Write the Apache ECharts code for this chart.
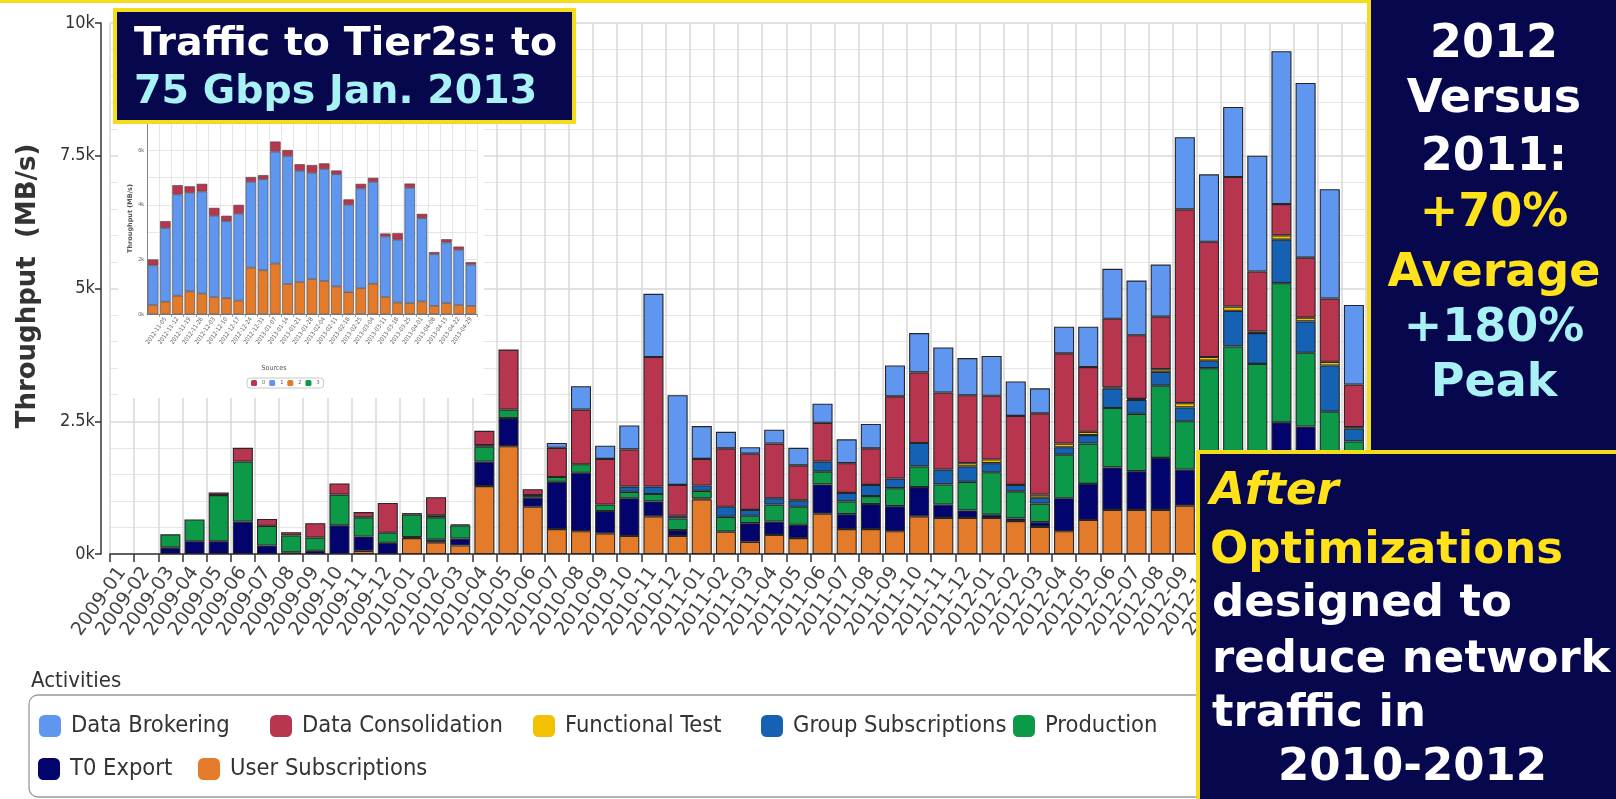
<!DOCTYPE html>
<html>
<head>
<meta charset="utf-8">
<script src="https://cdn.jsdelivr.net/npm/echarts@6/dist/echarts.min.js"></script>
<style>
  html, body { margin: 0; padding: 0; background: #fff; }
  #chart { width: 1616px; height: 799px; }
</style>
</head>
<body>
<div id="chart"></div>
<script>
// monthly throughput to Tier2s, MB/s
var months = ['2009-01','2009-02','2009-03','2009-04','2009-05','2009-06','2009-07','2009-08','2009-09','2009-10','2009-11','2009-12',
  '2010-01','2010-02','2010-03','2010-04','2010-05','2010-06','2010-07','2010-08','2010-09','2010-10','2010-11','2010-12',
  '2011-01','2011-02','2011-03','2011-04','2011-05','2011-06','2011-07','2011-08','2011-09','2011-10','2011-11','2011-12',
  '2012-01','2012-02','2012-03','2012-04','2012-05','2012-06','2012-07','2012-08','2012-09','2012-10','2012-11','2012-12',
  '2013-01','2013-02','2013-03','2013-04'];

var userSubs = [0,0, 0,0,0,0,0,0,0,0,60,0,
  300,220,160,1280,2030,890,470,430,390,340,710,340,
  1030,420,230,360,300,760,470,470,430,710,680,680,
  680,620,510,430,640,830,830,830,910,920,910,880,
  1080,1000,880,920];
var t0Export = [0,0, 120,240,240,610,160,30,60,540,270,210,
  20,50,130,460,530,170,890,1100,420,710,280,110,
  20,0,350,250,250,550,280,470,470,550,250,140,
  60,50,90,620,680,800,730,980,680,800,800,700,
  1400,1400,500,600];
var production = [0,0, 250,410,870,1130,370,320,250,580,360,190,
  420,420,250,280,160,50,90,160,120,120,140,220,
  140,280,140,320,340,240,240,150,340,390,380,540,
  800,510,350,820,760,1120,1080,1360,910,1780,2200,2000,
  2620,1390,1300,600];
var groupSubs = [0,0, 0,0,0,0,0,0,0,0,0,0,
  0,40,20,30,0,0,0,0,0,100,140,50,
  100,190,110,120,120,190,160,210,180,440,280,290,
  170,120,110,140,160,370,260,260,260,140,670,580,
  820,590,870,240];
var functionalTest = [0,0, 0,0,0,0,0,0,0,0,0,0,
  0,0,0,0,0,0,0,0,0,0,0,0,
  0,0,0,0,0,0,0,0,0,0,0,60,
  70,0,60,70,60,20,20,50,80,70,80,30,
  80,70,70,30];
var dataConsolidation = [0,0, 0,0,50,260,130,60,270,210,100,560,
  30,340,0,270,1130,110,550,1030,860,700,2440,580,
  500,1100,1060,1030,660,730,560,690,1550,1330,1450,1280,
  1200,1300,1530,1700,1220,1290,1200,990,3650,2170,2440,1130,
  590,1130,1190,800];
var dataBrokering = [0,0, 0,0,0,0,0,0,0,0,0,0,
  0,0,0,0,0,0,90,440,250,450,1190,1690,
  620,310,120,260,330,360,450,460,580,740,850,700,
  750,650,470,500,760,940,1030,980,1360,1270,1320,2180,
  2880,3290,2060,1500];

// inset: weekly, by source
var weeks = ['2012-10-29','2012-11-05','2012-11-12','2012-11-19','2012-11-26','2012-12-03','2012-12-10','2012-12-17','2012-12-24',
  '2012-12-31','2013-01-07','2013-01-14','2013-01-21','2013-01-28','2013-02-04','2013-02-11','2013-02-18','2013-02-25',
  '2013-03-04','2013-03-11','2013-03-18','2013-03-25','2013-04-01','2013-04-08','2013-04-15','2013-04-22','2013-04-29'];
var src0 = [220,250,340,240,280,290,200,330,180,150,370,220,240,290,210,140,200,170,150,110,240,160,160,80,120,120,90];
var src1 = [1450,2700,3710,3610,3740,2980,2820,3180,3140,3340,4100,4690,4080,3890,4100,4110,3200,3650,3730,2220,2300,4220,3050,1890,2220,2020,1510];
var src2 = [330,450,670,830,750,620,580,490,1700,1600,1850,1100,1170,1280,1210,1010,800,950,1110,620,420,400,460,300,400,330,300];
var src3 = [0,0,0,0,0,0,0,0,0,0,0,0,0,0,0,0,0,0,0,0,0,0,0,0,0,0,0];

var NAVY = '#07074d', YELLOW = '#f4dc1c', CYAN = '#a8f2f6', GOLD = '#ffe21a';
var COND = "'DejaVu Sans Condensed', 'DejaVu Sans', sans-serif";
var SANS = "'DejaVu Sans', sans-serif";

function nz(arr) { return arr.map(function (v) { return v === 0 ? '-' : v; }); }

function mainBar(name, data, color) {
  return {
    name: name, type: 'bar', stack: 'act', data: nz(data),
    barCategoryGap: '17%',
    itemStyle: { color: color, borderColor: '#262626', borderWidth: 1.1 },
    emphasis: { disabled: true }
  };
}
function insetBar(name, data, color) {
  return {
    name: name, type: 'bar', stack: 'src', data: nz(data),
    xAxisIndex: 1, yAxisIndex: 1, z: 11,
    barCategoryGap: '14%',
    itemStyle: { color: color, borderColor: '#444', borderWidth: 0.6 },
    emphasis: { disabled: true }
  };
}

var acts = [
  ['Data Brokering', 39, 714],
  ['Data Consolidation', 270, 714],
  ['Functional Test', 533, 714],
  ['Group Subscriptions', 761, 714],
  ['Production', 1013, 714],
  ['T0 Export', 38, 757],
  ['User Subscriptions', 198, 757]
];
var legends = acts.map(function (a) {
  return {
    data: [a[0]], left: a[1], top: a[2], padding: 0,
    itemWidth: 22, itemHeight: 22, itemGap: 0, icon: 'roundRect',
    selectedMode: false, itemStyle: { borderWidth: 0 },
    textStyle: { fontFamily: COND, fontSize: 23.5, color: '#333', padding: [0, 0, 0, 5] }
  };
});
legends.push({
  data: ['0', '1', '2', '3'], left: 247, top: 378, padding: [2, 4],
  itemWidth: 6, itemHeight: 6, itemGap: 4, icon: 'roundRect', selectedMode: false,
  itemStyle: { borderWidth: 0 },
  borderColor: '#c8c8c8', borderWidth: 1, borderRadius: 3, z: 12,
  textStyle: { fontFamily: COND, fontSize: 5.5, color: '#555' }
});

function txt(x, y, s, color, font, align) {
  return { type: 'text', x: x, y: y, z: 31,
    style: { text: s, fill: color, font: font, align: align || 'left', verticalAlign: 'middle' } };
}

var option = {
  backgroundColor: '#fff',
  animation: false,
  legend: legends,
  grid: [
    { left: 110, right: 250, top: 23, bottom: 245 },
    { left: 147, right: 1139, top: 123, bottom: 485, z: 10 }
  ],
  xAxis: [
    {
      type: 'category', data: months, gridIndex: 0,
      axisLine: { lineStyle: { color: '#333', width: 1.5 } },
      axisTick: { show: true, length: 8, lineStyle: { color: '#333', width: 1.5 } },
      splitLine: { show: true, lineStyle: { color: '#d9d9d9', width: 1.5 } },
      axisLabel: { interval: 0, rotate: 55, margin: 15, fontSize: 19, color: '#444', fontFamily: SANS }
    },
    {
      type: 'category', data: weeks, gridIndex: 1, z: 10,
      axisLine: { lineStyle: { color: '#666', width: 0.8 } },
      axisTick: { show: true, length: 3, lineStyle: { color: '#666', width: 0.6 } },
      splitLine: { show: true, lineStyle: { color: '#e0e0e0', width: 0.8 } },
      axisLabel: { interval: function (i) { return i > 0; }, rotate: 55, margin: 4, fontSize: 6, color: '#666', fontFamily: COND }
    }
  ],
  yAxis: [
    {
      type: 'value', gridIndex: 0, min: 0, max: 10000, interval: 2500, offset: 9,
      axisLine: { show: true, lineStyle: { color: '#333', width: 1.5 } },
      axisTick: { show: true, length: 6, lineStyle: { color: '#333', width: 1.5 } },
      axisLabel: { fontSize: 18, color: '#333', fontFamily: COND, margin: 6,
        formatter: function (v) { return (v / 1000) + 'k'; } },
      splitLine: { lineStyle: { color: '#d9d9d9', width: 1.5 } },
      minorSplitLine: { show: true, lineStyle: { color: '#e6e6e6', width: 1.2 } },
      minorTick: { show: false, splitNumber: 5 }
    },
    {
      type: 'value', gridIndex: 1, min: 0, max: 7000, interval: 1000, z: 10,
      name: 'Throughput (MB/s)', nameLocation: 'middle', nameGap: 13,
      nameTextStyle: { fontFamily: SANS, fontWeight: 'bold', fontSize: 6.5, color: '#555' },
      axisLine: { show: true, lineStyle: { color: '#666', width: 0.8 } },
      axisTick: { show: false },
      axisLabel: { fontSize: 5.5, color: '#666', margin: 3,
        formatter: function (v) { return v % 2000 === 0 ? (v / 1000) + 'k' : ''; } },
      splitLine: { lineStyle: { color: '#e0e0e0', width: 0.8 } },
      minorSplitLine: { show: false }
    }
  ],
  graphic: [
    { type: 'rect', z: 30, shape: { x: 0, y: 0, width: 1372, height: 3 }, style: { fill: YELLOW } },
    // main y axis title
    { type: 'text', x: 28, y: 286, rotation: Math.PI / 2, z: 3,
      style: { text: 'Throughput  (MB/s)', fill: '#333', font: "bold 26px " + SANS, align: 'center', verticalAlign: 'middle' } },
    // inset background
    { type: 'rect', z: 5, shape: { x: 118, y: 122, width: 366, height: 276 }, style: { fill: '#fff' } },
    { type: 'text', x: 274, y: 368, z: 12,
      style: { text: 'Sources', fill: '#555', font: "7px " + COND, align: 'center', verticalAlign: 'middle' } },
    // legend frame
    { type: 'rect', z: 1, shape: { x: 29, y: 695, width: 1250, height: 102, r: 9 },
      style: { fill: 'none', stroke: '#9a9a9a', lineWidth: 1.3 } },
    txt(31, 681, 'Activities', '#333', "22px " + COND),
    // title box
    { type: 'rect', z: 30, shape: { x: 115, y: 10, width: 459, height: 112 },
      style: { fill: NAVY, stroke: YELLOW, lineWidth: 4 } },
    txt(134, 45, 'Traffic to Tier2s: to', '#fff', "bold 39.5px " + SANS),
    txt(134, 93, '75 Gbps Jan. 2013', CYAN, "bold 39.5px " + SANS),
    // right box
    { type: 'rect', z: 30, shape: { x: 1369, y: -5, width: 260, height: 458 },
      style: { fill: NAVY, stroke: YELLOW, lineWidth: 4 } },
    txt(1494, 45, '2012', '#fff', "bold 46px " + SANS, 'center'),
    txt(1494, 100, 'Versus', '#fff', "bold 46px " + SANS, 'center'),
    txt(1494, 158, '2011:', '#fff', "bold 46px " + SANS, 'center'),
    txt(1494, 214, '+70%', GOLD, "bold 46px " + SANS, 'center'),
    txt(1494, 274, 'Average', GOLD, "bold 46px " + SANS, 'center'),
    txt(1494, 329, '+180%', CYAN, "bold 46px " + SANS, 'center'),
    txt(1494, 384, 'Peak', CYAN, "bold 46px " + SANS, 'center'),
    // lower box
    { type: 'rect', z: 30, shape: { x: 1198, y: 452, width: 430, height: 360 },
      style: { fill: NAVY, stroke: YELLOW, lineWidth: 4 } },
    txt(1210, 492, 'After', GOLD, "italic bold 45px " + SANS),
    txt(1210, 551, 'Optimizations', GOLD, "bold 45px " + SANS),
    txt(1212, 604, 'designed to', '#fff', "bold 45px " + SANS),
    txt(1212, 660, 'reduce network', '#fff', "bold 45px " + SANS),
    txt(1212, 714, 'traffic in', '#fff', "bold 45px " + SANS),
    txt(1278, 768, '2010-2012', '#fff', "bold 45px " + SANS)
  ],
  series: [
    mainBar('User Subscriptions', userSubs, '#e47b2a'),
    mainBar('T0 Export', t0Export, '#03036e'),
    mainBar('Production', production, '#0d9a48'),
    mainBar('Group Subscriptions', groupSubs, '#1561b3'),
    mainBar('Functional Test', functionalTest, '#f2c200'),
    mainBar('Data Consolidation', dataConsolidation, '#b8354f'),
    mainBar('Data Brokering', dataBrokering, '#5f96f0'),
    insetBar('2', src2, '#e47b2a'),
    insetBar('3', src3, '#0d9a48'),
    insetBar('1', src1, '#5f96f0'),
    insetBar('0', src0, '#b8354f')
  ]
};

echarts.init(document.getElementById('chart')).setOption(option);
</script>
</body>
</html>
